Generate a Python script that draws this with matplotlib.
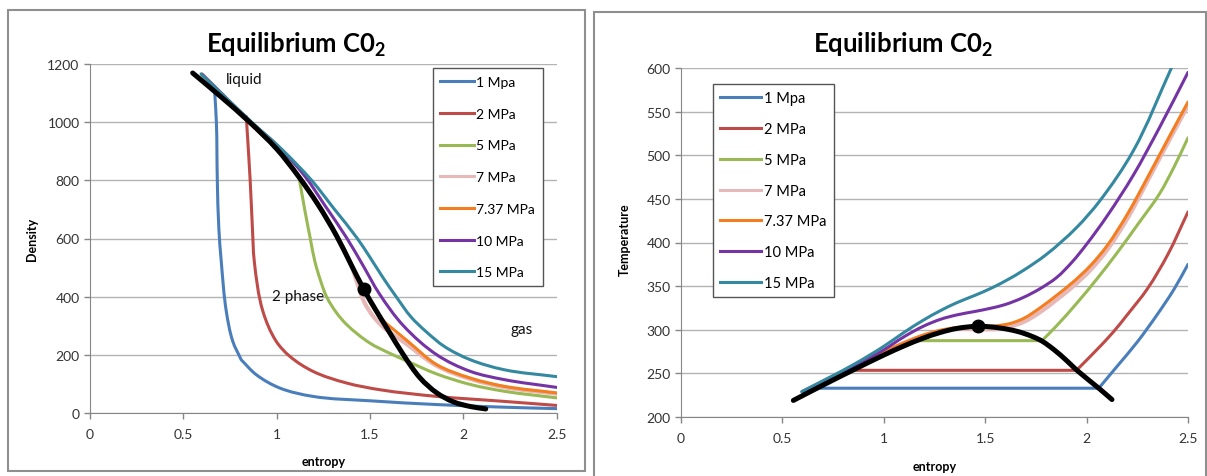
import numpy as np
import matplotlib
matplotlib.use("Agg")
import matplotlib.pyplot as plt
from matplotlib.patches import Rectangle, PathPatch
from matplotlib.path import Path
from matplotlib.lines import Line2D

plt.rcParams['font.family'] = ['Lato', 'DejaVu Sans']
plt.rcParams['mathtext.fontset'] = 'custom'
plt.rcParams['mathtext.rm'] = 'Lato'
plt.rcParams['mathtext.bf'] = 'Lato:bold'

W, H = 1207, 477

labels = ["1 Mpa", "2 MPa", "5 MPa", "7 MPa", "7.37 MPa", "10 MPa", "15 MPa"]
colors = ["#4a7ebb", "#be4b48", "#98b954", "#e6b9b8", "#f47d20", "#7534a4", "#3488a0"]

# ---- density vs entropy ----
s_rho_1 = [0.667, 0.677, 0.682, 0.69, 0.703, 0.73, 0.765, 0.81, 0.89, 1.016, 1.195, 1.5, 1.858, 2.217, 2.5]
rho_1 = [1112, 1000, 800, 636, 522, 350, 246, 183, 132, 86, 57, 42, 29, 20, 15]

s_rho_2 = [0.837, 0.858, 0.87, 0.88, 0.926, 0.998, 1.07, 1.195, 1.375, 1.553, 1.858, 2.217, 2.5]
rho_2 = [1020, 800, 636, 522, 350, 246, 195, 143, 103, 80, 57, 40, 26]

s_rho_5 = [0.6, 0.85, 1.0, 1.12, 1.15, 1.18, 1.205, 1.235, 1.267, 1.32, 1.375, 1.5, 1.6, 1.7, 1.858, 2.038, 2.217, 2.5]
rho_5 = [1163, 1004, 910, 810, 700, 600, 520, 455, 400, 345, 304, 240, 207, 178, 134, 98, 75, 52]

s_rho_7 = [0.6, 0.85, 1.0, 1.115, 1.22, 1.32, 1.395, 1.43, 1.47, 1.52, 1.58, 1.679, 1.858, 2.038, 2.217, 2.5]
rho_7 = [1164, 1004, 909, 816, 719, 611, 515, 450, 380, 330, 290, 245, 162, 117, 89, 66]

s_rho_737 = [0.6, 0.85, 1.0, 1.115, 1.22, 1.32, 1.395, 1.466, 1.52, 1.57, 1.63, 1.7, 1.858, 2.038, 2.217, 2.5]
rho_737 = [1164, 1005, 911, 818, 721, 613, 518, 426, 360, 318, 285, 248, 166, 120, 92, 69]

s_rho_10 = [0.6, 0.858, 1.0, 1.15, 1.26, 1.375, 1.46, 1.55, 1.679, 1.858, 2.038, 2.217, 2.5]
rho_10 = [1165, 1003, 922, 815, 712, 602, 510, 410, 300, 200, 143, 115, 88]

s_rho_15 = [0.595, 0.866, 1.03, 1.187, 1.31, 1.43, 1.5, 1.57, 1.64, 1.72, 1.8, 1.9, 2.038, 2.217, 2.5]
rho_15 = [1166, 1000, 905, 800, 700, 602, 535, 465, 400, 330, 280, 228, 183, 149, 125]

s_dome_rho = [0.55, 0.7, 0.85, 1.0, 1.115, 1.22, 1.32, 1.395, 1.466, 1.53, 1.6, 1.679, 1.769, 1.858, 1.948, 2.04, 2.12]
rho_dome = [1169, 1088, 1003, 908, 815, 718, 610, 515, 426, 355, 282, 200, 120, 69, 38, 22, 14]

# ---- temperature vs entropy ----
s_T_1 = [0.685, 2.06, 2.15, 2.25, 2.35, 2.43, 2.5]
T_1 = [233, 233, 258, 286, 318, 346, 375]

s_T_2 = [0.85, 1.95, 2.05, 2.13, 2.2, 2.3, 2.4, 2.5]
T_2 = [253.5, 253.5, 277, 297, 317, 347, 386, 435]

s_T_5 = [0.6, 0.85, 1.0, 1.145, 1.78, 1.85, 1.95, 2.05, 2.15, 2.25, 2.36, 2.43, 2.5]
T_5 = [229, 257, 274, 287.5, 287.5, 304, 330, 358, 388, 420, 456, 486, 520]

s_T_7 = [0.6, 0.85, 1.0, 1.1, 1.19, 1.28, 1.36, 1.42, 1.56, 1.62, 1.69, 1.77, 1.85, 1.93, 2.017, 2.1, 2.2, 2.313, 2.4, 2.5]
T_7 = [229, 257, 274.5, 285, 293, 298.5, 301, 301, 301, 303.5, 309, 320, 334, 349, 368, 391, 427, 476, 514, 557]

s_T_737 = [0.6, 0.85, 1.0, 1.1, 1.19, 1.28, 1.36, 1.466, 1.55, 1.62, 1.69, 1.77, 1.85, 1.93, 2.017, 2.1, 2.2, 2.313, 2.4, 2.5]
T_737 = [229, 257, 274.5, 285, 293.5, 299.5, 302.5, 304, 304.5, 307, 313, 325, 339, 354, 373, 396, 432, 480, 518, 561]

s_T_10 = [0.6, 0.85, 1.0, 1.1, 1.195, 1.28, 1.36, 1.45, 1.524, 1.6, 1.688, 1.77, 1.853, 1.93, 2.0, 2.1, 2.23, 2.36, 2.5]
T_10 = [229, 257.5, 277, 292, 304, 312, 317, 321, 324.5, 329, 337, 347, 360, 378, 398, 430, 477, 532, 595]

s_T_15 = [0.595, 0.85, 1.0, 1.1, 1.195, 1.28, 1.36, 1.45, 1.524, 1.6, 1.688, 1.8, 1.95, 2.066, 2.23, 2.42]
T_15 = [229, 260, 281, 297, 311, 322, 331, 339.5, 347, 356, 368, 386, 417, 448, 505, 601]

s_dome_T = [0.554, 0.7, 0.85, 1.0, 1.1, 1.19, 1.28, 1.36, 1.466, 1.573, 1.66, 1.73, 1.78, 1.84, 1.9, 1.95, 2.06, 2.125]
T_dome = [219, 236.5, 254, 271, 281.5, 290, 297, 301.5, 304, 302, 298, 292.5, 287, 277, 265, 254, 233, 220]

s_crit = 1.466
rho_crit = 426
T_crit = 304

rho_series = [(s_rho_1, rho_1), (s_rho_2, rho_2), (s_rho_5, rho_5), (s_rho_7, rho_7),
              (s_rho_737, rho_737), (s_rho_10, rho_10), (s_rho_15, rho_15)]
T_series = [(s_T_1, T_1), (s_T_2, T_2), (s_T_5, T_5), (s_T_7, T_7),
            (s_T_737, T_737), (s_T_10, T_10), (s_T_15, T_15)]


def px_axes(x0, y_top, x1, y_bot):
    return [x0 / W, 1 - y_bot / H, (x1 - x0) / W, (y_bot - y_top) / H]


def smooth_path(ax, xs, ys, corner_deg=20):
    # excel style smoothed line: bezier through the points, sharp where the curve bends a lot
    p = ax.transData.transform(np.column_stack([xs, ys]))
    n = len(p)
    seg = p[1:] - p[:-1]
    lens = np.hypot(seg[:, 0], seg[:, 1])
    u = seg / lens[:, None]
    t_in = np.zeros_like(p)
    t_out = np.zeros_like(p)
    t_in[0] = t_out[0] = u[0]
    t_in[-1] = t_out[-1] = u[-1]
    cos_lim = np.cos(np.radians(corner_deg))
    for i in range(1, n - 1):
        if np.dot(u[i - 1], u[i]) < cos_lim:
            t_in[i], t_out[i] = u[i - 1], u[i]
        else:
            b = u[i - 1] + u[i]
            b = b / np.hypot(*b)
            t_in[i] = t_out[i] = b
    verts = [p[0]]
    codes = [Path.MOVETO]
    for i in range(n - 1):
        L = lens[i] / 3
        verts += [p[i] + t_out[i] * L, p[i + 1] - t_in[i + 1] * L, p[i + 1]]
        codes += [Path.CURVE4] * 3
    verts = ax.transData.inverted().transform(np.array(verts))
    return Path(verts, codes)


def style_axes(ax):
    for side in ["top", "right"]:
        ax.spines[side].set_visible(False)
    for side in ["left", "bottom"]:
        ax.spines[side].set_color("#868686")
    ax.grid(axis="y", color="#b3b3b3", lw=1)
    ax.set_axisbelow(True)
    ax.tick_params(colors="#868686", labelcolor="#333333", labelsize=10, length=4, width=1, direction="out")
    ax.tick_params(axis="x", pad=7)
    ax.set_xlim(0, 2.5)
    ax.set_xticks([0, 0.5, 1, 1.5, 2, 2.5])
    ax.set_xticklabels(["0", "0.5", "1", "1.5", "2", "2.5"])


def draw_series(ax, series, s_dome, y_dome, y_crit):
    handles = []
    for (xs, ys), lab, c in zip(series, labels, colors):
        lw = 3.0 if lab == "7 MPa" else 2.2
        ax.add_patch(PathPatch(smooth_path(ax, xs, ys), fill=False, ec=c, lw=lw,
                               capstyle="round", joinstyle="round"))
        handles.append(Line2D([], [], color=c, lw=2.2, label=lab))
    ax.add_patch(PathPatch(smooth_path(ax, s_dome, y_dome), fill=False, ec="black", lw=3.6,
                           capstyle="round", joinstyle="round"))
    ax.plot([s_crit], [y_crit], "o", color="black", ms=9)
    return handles


fig = plt.figure(figsize=(W / 100, H / 100), dpi=100)

# panel frames
fig.add_artist(Rectangle((7.5 / W, 1 - 472 / H), 577.5 / W, 461.5 / H, transform=fig.transFigure,
                         fill=False, ec="#8f8f8f", lw=1.5))
fig.add_artist(Rectangle((594 / W, 1 - 490 / H), 612 / W, 477 / H, transform=fig.transFigure,
                         fill=False, ec="#8f8f8f", lw=1.5))

# left chart
ax1 = fig.add_axes(px_axes(90, 65, 556.7, 414))
style_axes(ax1)
ax1.set_ylim(0, 1200)
ax1.set_yticks(range(0, 1201, 200))
h1 = draw_series(ax1, rho_series, s_dome_rho, rho_dome, rho_crit)
ax1.set_xlabel("entropy", fontsize=9, fontweight="bold", va="center")
ax1.xaxis.set_label_coords(0.5, -0.138)
ax1.set_ylabel("Density", fontsize=9, fontweight="bold", va="center")
ax1.yaxis.set_label_coords(-0.124, 0.5)
ax1.text(0.73, 1148, "liquid", fontsize=11, va="center", ha="left", color="#111111")
ax1.text(0.975, 402, "2 phase", fontsize=11, va="center", ha="left", color="#111111")
ax1.text(2.25, 289, "gas", fontsize=11, va="center", ha="left", color="#111111")
leg1 = ax1.legend(handles=h1, loc="upper left", bbox_to_anchor=(432.7 / W, 1 - 69.3 / H),
                  bbox_transform=fig.transFigure, borderaxespad=0, fontsize=10, handlelength=2.4,
                  handletextpad=0.2, labelspacing=1.42, borderpad=0.55, fancybox=False,
                  framealpha=1, edgecolor="#555555")
leg1.get_frame().set_linewidth(1.0)
fig.text(296 / W, 1 - 45 / H, "Equilibrium C0$_{\\mathbf{2}}$", ha="center", va="center",
         fontsize=18.5, fontweight="bold")

# right chart
ax2 = fig.add_axes(px_axes(681, 69, 1188, 418))
style_axes(ax2)
ax2.set_ylim(200, 600)
ax2.set_yticks(range(200, 601, 50))
h2 = draw_series(ax2, T_series, s_dome_T, T_dome, T_crit)
ax2.set_xlabel("entropy", fontsize=9, fontweight="bold", va="center")
ax2.xaxis.set_label_coords(0.5, -0.140)
ax2.set_ylabel("Temperature", fontsize=9, fontweight="bold", va="center")
ax2.yaxis.set_label_coords(-0.110, 0.51)
leg2 = ax2.legend(handles=h2, loc="upper left", bbox_to_anchor=(713 / W, 1 - 85 / H),
                  bbox_transform=fig.transFigure, borderaxespad=0, fontsize=10.5, handlelength=2.8,
                  handletextpad=0.2, labelspacing=1.15, borderpad=0.5, fancybox=False,
                  framealpha=1, edgecolor="#555555")
leg2.get_frame().set_linewidth(1.0)
fig.text(903 / W, 1 - 45 / H, "Equilibrium C0$_{\\mathbf{2}}$", ha="center", va="center",
         fontsize=18.5, fontweight="bold")

fig.savefig("out.png", dpi=100)
